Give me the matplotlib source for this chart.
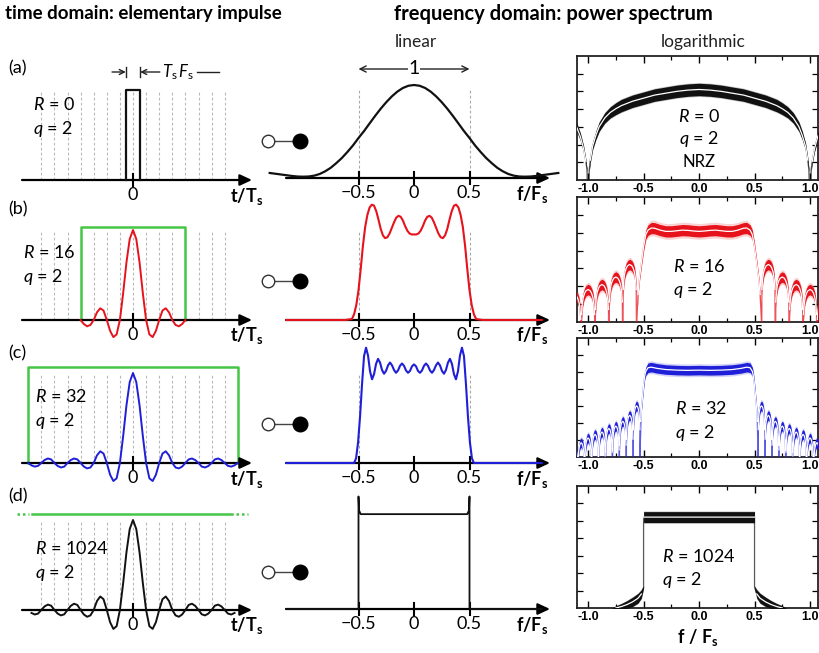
import numpy as np
import matplotlib
matplotlib.use('Agg')
import matplotlib.pyplot as plt

plt.rcParams['font.family'] = ['Lato', 'DejaVu Sans']
plt.rcParams['mathtext.fontset'] = 'custom'
plt.rcParams['mathtext.rm'] = 'Lato'
plt.rcParams['mathtext.it'] = 'Lato:italic'
plt.rcParams['mathtext.bf'] = 'Lato:bold'

# ---------------- data ----------------
ROW_LABELS = ['(a)', '(b)', '(c)', '(d)']
R_VALUES = ['0', '16', '32', '1024']
Q_VALUES = ['2', '2', '2', '2']
WINDOW_HALF = [4, 8]          # green window half widths (t/Ts) rows b, c

# time domain: rectangle (row a)
RECT_T = [-0.5, -0.5, 0.5, 0.5]
RECT_V = [0.0, 1.0, 1.0, 0.0]
# time domain impulses sampled every 0.25 Ts, t >= 0 (symmetric)
TD_B_HALF = [1.0, 0.90, 0.64, 0.30, 0.0, -0.16, -0.19, -0.12, 0.0, 0.105, 0.13, 0.085,
             0.0, -0.055, -0.07, -0.045, 0.0]
TD_C_HALF = [1.0, 0.90, 0.64, 0.30, 0.0, -0.17, -0.20, -0.13, 0.0, 0.105, 0.13, 0.085,
             0.0, -0.05, -0.06, -0.04, 0.0, 0.04, 0.05, 0.033, 0.0, -0.04, -0.05, -0.033,
             0.0, 0.04, 0.05, 0.033, 0.0, -0.032, -0.04, -0.026, 0.0]
TD_D_HALF = [1.0, 0.90, 0.64, 0.30, 0.0, -0.18, -0.21, -0.135, 0.0, 0.12, 0.15, 0.10,
             0.0, -0.06, -0.075, -0.05, 0.0, 0.056, 0.07, 0.046, 0.0, -0.048, -0.06, -0.04,
             0.0, 0.048, 0.06, 0.04, 0.0, -0.04, -0.05, -0.033]
TD_STEP = 0.25

# linear spectra, f >= 0 (symmetric)
LIN_A_STEP = 0.05
LIN_A_HALF = [1.0, 0.992, 0.968, 0.929, 0.877, 0.815, 0.745, 0.668, 0.587, 0.505, 0.43,
              0.35, 0.28, 0.215, 0.16, 0.11, 0.072, 0.043, 0.025, 0.016, 0.014, 0.016,
              0.022, 0.03, 0.038, 0.046, 0.054]
LIN_B_STEP = 0.02
LIN_B_HALF = [0.92, 0.92, 0.93, 0.96, 1.01, 1.07, 1.11, 1.12, 1.10, 1.05, 0.99, 0.93, 0.89,
              0.88, 0.91, 0.98, 1.08, 1.17, 1.23, 1.24, 1.21, 1.13, 1.00, 0.80, 0.55, 0.32,
              0.16, 0.06, 0.01]
LIN_C_STEP = 0.018
LIN_C_HALF = [1.06, 1.04, 0.99, 0.97, 0.995, 1.045, 1.07, 1.045, 0.995, 0.97, 1.00, 1.05,
              1.08, 1.05, 0.99, 0.96, 1.00, 1.08, 1.12, 1.065, 0.955, 0.90, 0.985, 1.155,
              1.24, 1.15, 0.85, 0.50, 0.22, 0.05, 0.0]
LIN_TAIL_F = 1.15
LIN_D_F = [-1.15, -0.5, -0.5, -0.495, -0.48, 0.48, 0.495, 0.5, 0.5, 1.15]
LIN_D_V = [0.0, 0.0, 1.21, 1.06, 1.02, 1.02, 1.06, 1.21, 0.0, 0.0]

# logarithmic spectra (fraction of panel height), f >= 0 (symmetric)
LA_F = [0, 0.1, 0.2, 0.3, 0.4, 0.5, 0.6, 0.7, 0.75, 0.8, 0.85, 0.9, 0.93, 0.96, 0.98,
        0.99, 1.0, 1.01, 1.02, 1.04, 1.07, 1.10, 1.12]
LA_C = [0.73, 0.725, 0.715, 0.70, 0.685, 0.66, 0.635, 0.60, 0.575, 0.545, 0.50, 0.43,
        0.36, 0.27, 0.16, 0.08, -0.3, 0.08, 0.15, 0.25, 0.35, 0.42, 0.45]
LA_W = [0.05, 0.05, 0.05, 0.05, 0.05, 0.05, 0.05, 0.05, 0.048, 0.045, 0.042, 0.038,
        0.034, 0.028, 0.02, 0.012, 0.005, 0.012, 0.016, 0.024, 0.03, 0.034, 0.035]

LB_F = [0, 0.05, 0.1, 0.15, 0.2, 0.25, 0.3, 0.35, 0.4, 0.43, 0.46, 0.48, 0.50, 0.52,
        0.54, 0.55, 0.5625]
LB_C = [0.725, 0.728, 0.733, 0.735, 0.73, 0.725, 0.725, 0.735, 0.75, 0.752, 0.735, 0.70,
        0.60, 0.47, 0.33, 0.22, 0.0]
LB_W = [0.045, 0.045, 0.045, 0.045, 0.045, 0.045, 0.045, 0.045, 0.045, 0.045, 0.042,
        0.037, 0.032, 0.027, 0.022, 0.017, 0.01]
ARCH_B_F = [0.625, 0.75, 0.875, 1.0, 1.125]
ARCH_B_H = [0.46, 0.36, 0.30, 0.26, 0.22]
ARCH_B_SPACING = 0.125

LC_F = [0, 0.1, 0.2, 0.3, 0.38, 0.43, 0.46, 0.48, 0.49, 0.50, 0.51, 0.52, 0.525, 0.53125]
LC_C = [0.73, 0.728, 0.73, 0.735, 0.745, 0.755, 0.75, 0.72, 0.68, 0.60, 0.50, 0.40,
        0.30, 0.0]
LC_W = [0.04, 0.04, 0.04, 0.04, 0.04, 0.04, 0.04, 0.034, 0.03, 0.027, 0.024,
        0.021, 0.018, 0.01]
ARCH_C_F = [0.5625, 0.625, 0.6875, 0.75, 0.8125, 0.875, 0.9375, 1.0, 1.0625, 1.125]
ARCH_C_H = [0.43, 0.35, 0.30, 0.26, 0.24, 0.21, 0.19, 0.16, 0.12, 0.10]
ARCH_C_SPACING = 0.0625

LD_F = [0, 0.1, 0.2, 0.3, 0.4, 0.49, 0.5, 0.5, 0.52, 0.55, 0.6, 0.65, 0.7, 0.75, 0.8]
LD_C = [0.745, 0.745, 0.745, 0.745, 0.745, 0.745, 0.745, 0.17, 0.115, 0.08, 0.05,
        0.028, 0.012, 0.0, -0.02]
LD_W = [0.045, 0.045, 0.045, 0.045, 0.045, 0.045, 0.045, 0.01, 0.035, 0.04, 0.038,
        0.032, 0.025, 0.018, 0.01]

# normalised shape of one side-lobe arch (position across arch, drop below its peak)
ARCH_U = [0.0, 0.03, 0.08, 0.15, 0.25, 0.35, 0.5, 0.65, 0.75, 0.85, 0.92, 0.97, 1.0]
ARCH_DROP = [1.0, 0.2, 0.12, 0.065, 0.03, 0.01, 0.0, 0.01, 0.03, 0.065, 0.12, 0.2, 1.0]

LOG_XTICKS = [-1.0, -0.5, 0.0, 0.5, 1.0]
LOG_XTICKLABELS = ['-1.0', '-0.5', '0.0', '0.5', '1.0']
LIN_XTICKS = [-0.5, 0, 0.5]
LIN_XTICKLABELS = ['\u22120.5', '0', '0.5']

# ---------------- colours ----------------
RED = '#e6121c'
BLUE = '#1f1fd8'
GREEN = '#46c646'
BLACK = '#111111'

# ---------------- layout helpers ----------------
W, H = 819, 653
fig = plt.figure(figsize=(W / 100, H / 100), dpi=100)


def add_ax(l, t, r, b):
    return fig.add_axes([l / W, 1 - b / H, (r - l) / W, (b - t) / H])


def mirror(f_half, v_half):
    f_half = np.asarray(f_half, float)
    v_half = np.asarray(v_half, float)
    return np.r_[-f_half[::-1], f_half[1:]], np.r_[v_half[::-1], v_half[1:]]


# overlay in pixel coordinates for annotations
ov = fig.add_axes([0, 0, 1, 1], zorder=10)
ov.set_xlim(0, W)
ov.set_ylim(H, 0)
ov.axis('off')
ov.patch.set_visible(False)

FS = 13
ov.text(5, 14, 'time domain: elementary impulse', fontsize=13.5, fontweight='bold',
        va='center', ha='left')
ov.text(394, 14, 'frequency domain: power spectrum', fontsize=14.5, fontweight='bold',
        va='center', ha='left')
ov.text(416, 42, 'linear', fontsize=12.5, va='center', ha='center', color='#222222')
ov.text(703, 42, 'logarithmic', fontsize=12.5, va='center', ha='center', color='#222222')

ROW_LABEL_Y = [68, 209, 353, 496]
RQ_LEFT_X = [33, 23, 35, 35]
RQ_LEFT_Y = [(105, 129), (253, 277), (397, 421), (549, 573)]
CIRCLE_Y = [141, 281, 424, 572]
for i in range(4):
    ov.text(8, ROW_LABEL_Y[i], ROW_LABELS[i], fontsize=FS, va='center', ha='left')
    ov.text(RQ_LEFT_X[i], RQ_LEFT_Y[i][0], r'$R$ = ' + R_VALUES[i], fontsize=FS,
            va='center', ha='left')
    ov.text(RQ_LEFT_X[i], RQ_LEFT_Y[i][1], r'$q$ = ' + Q_VALUES[i], fontsize=FS,
            va='center', ha='left')
    cy = CIRCLE_Y[i]
    ov.plot([268, 300], [cy, cy], color='#444444', lw=1.0, zorder=1)
    ov.plot([268], [cy], marker='o', ms=9, mfc='white', mec='#333333', mew=1.0, zorder=2)
    ov.plot([300], [cy], marker='o', ms=10.5, mfc='black', mec='black', zorder=2)

# ---------------- left column: time domain ----------------
T0, TPX, APX = 133.0, 13.1, 90.0
LEFT_AXIS_Y = [180, 320, 463, 610]
td_curves = [None, TD_B_HALF, TD_C_HALF, TD_D_HALF]
td_colors = [BLACK, RED, BLUE, BLACK]
GRID_T = list(range(-7, 8))

for i, ay in enumerate(LEFT_AXIS_Y):
    l, r, t, b = 0, 280, ay - 125, ay + 32
    ax = add_ax(l, t, r, b)
    ax.set_xlim((l - T0) / TPX, (r - T0) / TPX)
    ax.set_ylim(-(b - ay) / APX, (ay - t) / APX)
    ax.axis('off')
    for gt in GRID_T:
        ax.plot([gt, gt], [0, 1.0], color='#b8b8b8', lw=0.8, ls=(0, (2.5, 2.0)), zorder=1)
    ax.annotate('', xy=((252 - T0) / TPX, 0), xytext=((22 - T0) / TPX, 0),
                arrowprops=dict(arrowstyle='-|>,head_length=0.6,head_width=0.28',
                                color='black', lw=1.6, shrinkA=0, shrinkB=0,
                                mutation_scale=12), zorder=3)
    ax.plot([0, 0], [-6 / APX, 6 / APX], color='black', lw=1.5, zorder=3)
    ax.text(0, -15 / APX, '0', fontsize=FS, ha='center', va='center')
    ax.text((247 - T0) / TPX, -16 / APX, r'$\mathbf{t/T_s}$', fontsize=FS,
            ha='center', va='center')
    if i == 0:
        ax.plot(RECT_T, RECT_V, color=BLACK, lw=1.6, zorder=4)
        yy = (ay - 72) / APX
        ax.annotate('', xy=(-0.55, yy), xytext=(-1.6, yy),
                    arrowprops=dict(arrowstyle='->', color='#222222', lw=1.0,
                                    shrinkA=0, shrinkB=0, mutation_scale=9))
        ax.annotate('', xy=(0.55, yy), xytext=(2.05, yy),
                    arrowprops=dict(arrowstyle='->', color='#222222', lw=1.0,
                                    shrinkA=0, shrinkB=0, mutation_scale=9))
        for xe in (-0.5, 0.5):
            ax.plot([xe, xe], [yy - 5 / APX, yy + 5 / APX], color='#222222', lw=1.0)
        ax.text(3.45, yy, r'$T_\mathrm{s}\,F_\mathrm{s}$', fontsize=12, ha='center',
                va='center')
        ax.plot([4.85, 6.6], [yy, yy], color='#222222', lw=1.0)
    else:
        tt, vv = mirror(np.arange(len(td_curves[i])) * TD_STEP, td_curves[i])
        ax.plot(tt, vv, color=td_colors[i], lw=1.4, zorder=4)
        if i in (1, 2):
            hw = WINDOW_HALF[i - 1]
            top = 1.03 if i == 1 else 1.07
            ax.plot([-hw, -hw, hw, hw], [0, top, top, 0], color=GREEN, lw=1.8, zorder=2)
        else:
            top = 1.07
            ax.plot([-7.7, 7.55], [top, top], color=GREEN, lw=1.8, zorder=2)
            ax.plot([-8.85, -7.95], [top, top], color=GREEN, lw=1.8, ls=(0, (1, 1.2)))
            ax.plot([7.85, 8.8], [top, top], color=GREEN, lw=1.8, ls=(0, (1, 1.2)))

# ---------------- middle column: linear spectra ----------------
F0, FPX, MPX = 414.0, 111.0, 93.0
MID_AXIS_Y = [178, 320, 463, 609]
for i, ay in enumerate(MID_AXIS_Y):
    l, r, t, b = 262, 575, ay - 140, ay + 32
    ax = add_ax(l, t, r, b)
    ax.set_xlim((l - F0) / FPX, (r - F0) / FPX)
    ax.set_ylim(-(b - ay) / MPX, (ay - t) / MPX)
    ax.axis('off')
    ax.annotate('', xy=((550 - F0) / FPX, 0), xytext=((286 - F0) / FPX, 0),
                arrowprops=dict(arrowstyle='-|>,head_length=0.6,head_width=0.28',
                                color='black', lw=1.6, shrinkA=0, shrinkB=0,
                                mutation_scale=12), zorder=3)
    for xt, lab in zip(LIN_XTICKS, LIN_XTICKLABELS):
        ax.plot([xt, xt], [-6 / MPX, 6 / MPX], color='black', lw=1.5, zorder=3)
        ax.text(xt, -15 / MPX, lab, fontsize=FS, ha='center', va='center')
    ax.text((532 - F0) / FPX, -16 / MPX, r'$\mathbf{f/F_s}$', fontsize=FS,
            ha='center', va='center')
    if i < 3:
        for xd in (-0.5, 0.5):
            ax.plot([xd, xd], [0, 0.95], color='#a8a8a8', lw=0.8, ls=(0, (2.5, 2.0)), zorder=1)
    if i == 0:
        ff, vv = mirror(np.arange(len(LIN_A_HALF)) * LIN_A_STEP, LIN_A_HALF)
        ax.plot(ff, vv, color=BLACK, lw=1.6, zorder=4)
        yy = (ay - 69) / MPX
        ax.annotate('', xy=(0.5, yy), xytext=(-0.5, yy),
                    arrowprops=dict(arrowstyle='<->', color='#222222', lw=1.0,
                                    shrinkA=0, shrinkB=0, mutation_scale=11))
        ax.text(0, yy, '1', fontsize=14, ha='center', va='center',
                bbox=dict(facecolor='white', edgecolor='none', pad=0.5))
    elif i == 1:
        fh = np.r_[np.arange(len(LIN_B_HALF)) * LIN_B_STEP, 0.62, LIN_TAIL_F]
        vh = np.r_[LIN_B_HALF, 0.0, 0.0]
        ff, vv = mirror(fh, vh)
        ax.plot(ff, vv, color=RED, lw=1.5, zorder=4)
    elif i == 2:
        fh = np.r_[np.arange(len(LIN_C_HALF)) * LIN_C_STEP, LIN_TAIL_F]
        vh = np.r_[LIN_C_HALF, 0.0]
        ff, vv = mirror(fh, vh)
        ax.plot(ff, vv, color=BLUE, lw=1.5, zorder=4)
    else:
        ax.plot(LIN_D_F, LIN_D_V, color=BLACK, lw=1.3, zorder=4)

# ---------------- right column: logarithmic spectra ----------------
LOG_BOXES = [(577, 56, 818, 180), (577, 197, 818, 322), (577, 338, 818, 457),
             (577, 486, 818, 608)]


def build_log(mf, mc, mw, arch_f=None, arch_h=None, spacing=None, arch_w=0.03):
    f = list(mf)
    c = list(mc)
    w = list(mw)
    if arch_f is not None:
        for pf, ph in zip(arch_f, arch_h):
            for u, d in zip(ARCH_U, ARCH_DROP):
                f.append(pf - spacing / 2 + u * spacing)
                c.append(ph - d)
                w.append(arch_w if 0 < u < 1 else 0.005)
    ff, cc = mirror(f, c)
    _, ww = mirror(f, w)
    return ff, cc, ww


log_data = [
    (build_log(LA_F, LA_C, LA_W), BLACK, '#666666', 1.12),
    (build_log(LB_F, LB_C, LB_W, ARCH_B_F, ARCH_B_H, ARCH_B_SPACING, 0.042), RED, '#f29090', 1.4),
    (build_log(LC_F, LC_C, LC_W, ARCH_C_F, ARCH_C_H, ARCH_C_SPACING, 0.04), BLUE, '#9090f0', 1.35),
    (build_log(LD_F, LD_C, LD_W), BLACK, '#666666', 1.12),
]
LOG_TEXT = [
    ('center', 699, [116, 139, 162], [r'$R$ = 0', r'$q$ = 2', 'NRZ']),
    ('left', 673, [266, 290], [r'$R$ = 16', r'$q$ = 2']),
    ('left', 675, [409, 433], [r'$R$ = 32', r'$q$ = 2']),
    ('left', 662, [557, 580], [r'$R$ = 1024', r'$q$ = 2']),
]

for i, box in enumerate(LOG_BOXES):
    ax = add_ax(*box)
    ax.set_xlim(-1.1, 1.072)
    ax.set_ylim(0, 1)
    (ff, cc, ww), col, halo, hs = log_data[i]
    ax.fill_between(ff, cc - hs * ww, cc + hs * ww, color=halo, alpha=0.4, lw=0, zorder=2)
    ax.fill_between(ff, cc - ww, cc + ww, color=col, lw=0, zorder=3)
    ax.plot(ff, cc, color=col, lw=0.9, alpha=0.7, zorder=3)
    cw = np.where(ww > 0.015, cc, np.nan)
    ax.plot(ff, cw, color='white', lw=0.9, zorder=4)
    for s in ax.spines.values():
        s.set_linewidth(1.3)
        s.set_color('#222222')
    ax.set_xticks(LOG_XTICKS)
    ax.set_xticklabels(LOG_XTICKLABELS)
    ax.set_xticks([-0.75, -0.25, 0.25, 0.75], minor=True)
    ax.set_yticks([k / 7 for k in range(1, 7)])
    ax.set_yticklabels([])
    ax.tick_params(axis='x', which='major', direction='in', length=5, width=1.0,
                   top=True, bottom=True, pad=2, labelsize=9)
    ax.tick_params(axis='x', which='minor', direction='in', length=3, width=0.9,
                   top=True, bottom=True)
    ax.tick_params(axis='y', which='major', direction='in', length=4, width=0.9,
                   left=True, right=True)
    for lab in ax.get_xticklabels():
        lab.set_fontfamily(['Liberation Sans', 'DejaVu Sans'])
        lab.set_fontweight('bold')
    ha, x0, ys, texts = LOG_TEXT[i]
    for y0, tx in zip(ys, texts):
        ov.text(x0, y0, tx, fontsize=FS if tx != 'NRZ' else 12, ha=ha, va='center')

ov.text(698, 637, r'$\mathbf{f\ /\ F_s}$', fontsize=FS, ha='center', va='center')

fig.savefig('out.png', dpi=100)
